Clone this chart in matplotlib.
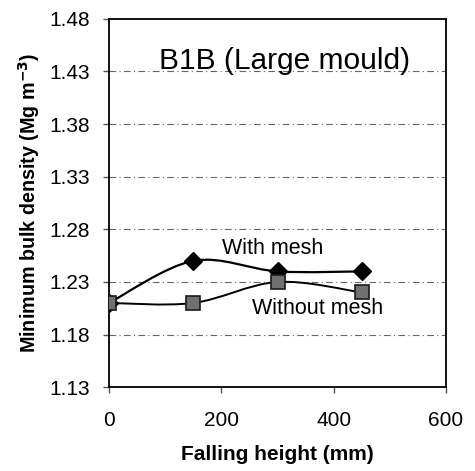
import numpy as np
import matplotlib
matplotlib.use("Agg")
import matplotlib.pyplot as plt
from matplotlib.path import Path
from matplotlib.patches import PathPatch

plt.rcParams['font.family'] = ['Liberation Sans', 'DejaVu Sans']

# Falling height (mm) and minimum bulk density (Mg m-3)
height = [0, 150, 300, 450]
with_mesh = [1.21, 1.25, 1.24, 1.24]
without_mesh = [1.21, 1.21, 1.23, 1.22]

y_ticks = [1.13, 1.18, 1.23, 1.28, 1.33, 1.38, 1.43, 1.48]
x_ticks = [0, 200, 400, 600]


def smooth_path(x, y, tension=1 / 6):
    # Catmull-Rom style Bezier through the points (like a spreadsheet smoothed line)
    x = np.asarray(x, float)
    y = np.asarray(y, float)
    n = len(x)
    verts = [(x[0], y[0])]
    codes = [Path.MOVETO]
    for i in range(n - 1):
        p0 = i - 1 if i > 0 else i
        p3 = i + 2 if i + 2 < n else i + 1
        c1 = (x[i] + (x[i + 1] - x[p0]) * tension, y[i] + (y[i + 1] - y[p0]) * tension)
        c2 = (x[i + 1] - (x[p3] - x[i]) * tension, y[i + 1] - (y[p3] - y[i]) * tension)
        verts += [c1, c2, (x[i + 1], y[i + 1])]
        codes += [Path.CURVE4] * 3
    return Path(verts, codes)


fig = plt.figure(figsize=(4.75, 4.71), dpi=100)
ax = fig.add_axes([0.2295, 0.178, 0.7095, 0.782])

# dashed horizontal grid
for yv in y_ticks[1:-1]:
    ax.axhline(yv, color='#666666', lw=0.8, ls=(0, (6, 3, 1, 3)), zorder=0)

ax.add_patch(PathPatch(smooth_path(height, with_mesh), fill=False, color='black', lw=1.6))
ax.add_patch(PathPatch(smooth_path(height, without_mesh), fill=False, color='black', lw=1.4))

ax.plot(height, with_mesh, ls='none', marker='D', ms=9, color='black', zorder=3)
ax.plot(height, without_mesh, ls='none', marker='s', ms=9.5, mfc='#707070',
        mec='#1a1a1a', mew=1.2, zorder=3)

ax.text(201, 1.262, 'With mesh', fontsize=15.5, va='center')
ax.text(255, 1.205, 'Without mesh', fontsize=15.5, va='center')
ax.text(313, 1.440, 'B1B (Large mould)', fontsize=21.5, ha='center', va='center')

ax.set_xlim(0, 600)
ax.set_ylim(1.13, 1.48)
ax.set_xticks(x_ticks)
ax.set_yticks(y_ticks)
ax.set_yticklabels([f'{v:.2f}' for v in y_ticks])
ax.tick_params(labelsize=15, direction='out', length=4, width=1, color='#555555', pad=10)
ax.tick_params(axis='x', pad=13)
for s in ax.spines.values():
    s.set_linewidth(1.3)

ax.set_xlabel('Falling height (mm)', fontsize=15, fontweight='bold', labelpad=11)
ax.set_ylabel('Minimum bulk density (Mg m$^{\\mathbf{-3}}$)', fontsize=14.2,
              fontweight='bold', labelpad=5)

fig.savefig('out.png', dpi=100)
